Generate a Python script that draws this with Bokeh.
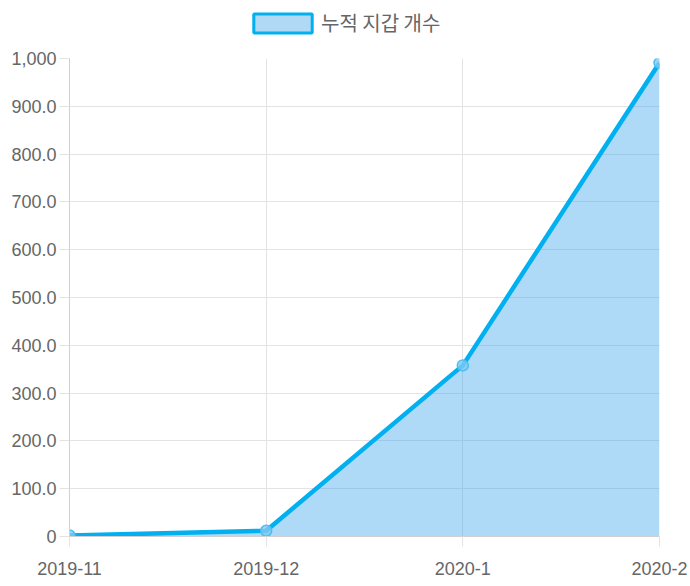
from bokeh.plotting import figure
from bokeh.layouts import column
from bokeh.models import Range1d, FixedTicker, Legend, LegendItem
from bokeh.embed import file_html
from bokeh.resources import INLINE

categories = ["2019-11", "2019-12", "2020-1", "2020-2"]
wallets = [2, 12, 358, 991]
series_name = "누적 지갑 개수"
y_ticks = [0, 100, 200, 300, 400, 500, 600, 700, 800, 900, 1000]
y_tick_labels = ["0", "100.0", "200.0", "300.0", "400.0", "500.0",
                 "600.0", "700.0", "800.0", "900.0", "1,000"]

xs = list(range(len(categories)))

# legend strip on top
lf = figure(width=690, height=48, output_backend="svg", toolbar_location=None,
            x_range=Range1d(0, 1), y_range=Range1d(0, 1),
            x_axis_location=None, y_axis_location=None,
            min_border=0, min_border_left=0, min_border_right=0,
            min_border_top=0, min_border_bottom=0)
lf.grid.visible = False
lf.outline_line_color = None
lf.background_fill_color = "white"
lf.border_fill_color = "white"
# swatch renderer lies outside the visible range; only its legend key shows
key = lf.quad(left=[5], right=[6], top=[6], bottom=[5], fill_color="#b0d9f5",
              line_color="#00b0f0", line_width=3)
legend = Legend(items=[LegendItem(label=series_name, renderers=[key])],
                location=(177, 11), orientation="horizontal",
                glyph_width=73, glyph_height=24, label_standoff=2,
                padding=0, margin=0, border_line_color=None,
                background_fill_alpha=0,
                label_text_font="Noto Sans CJK KR", label_text_font_size="20px",
                label_text_color="#666666", label_height=20)
lf.add_layout(legend, "center")

p = figure(frame_width=590, frame_height=478, output_backend="svg",
           toolbar_location=None, x_range=Range1d(0, len(categories) - 1),
           y_range=Range1d(0, 1000), min_border_left=69, min_border_right=31,
           min_border_top=10, min_border_bottom=50)
p.outline_line_color = None
p.background_fill_color = "white"
p.border_fill_color = "white"

grid_color = "#e3e3e3"
label_font = "Liberation Sans"

p.xaxis.ticker = FixedTicker(ticks=xs)
p.xaxis.major_label_overrides = {i: c for i, c in zip(xs, categories)}
p.yaxis.ticker = FixedTicker(ticks=y_ticks)
p.yaxis.major_label_overrides = {t: l for t, l in zip(y_ticks, y_tick_labels)}
p.xgrid.ticker = FixedTicker(ticks=xs)
p.ygrid.ticker = FixedTicker(ticks=y_ticks)
p.grid.grid_line_color = grid_color
p.grid.grid_line_width = 1

for ax in (p.xaxis, p.yaxis):
    ax.axis_line_color = "#d0d0d0"
    ax.major_tick_line_color = grid_color
    ax.major_tick_out = 10
    ax.major_tick_in = 0
    ax.minor_tick_line_color = None
    ax.major_label_text_font = label_font
    ax.major_label_text_font_size = "18px"
    ax.major_label_text_color = "#666666"
p.xaxis.major_label_standoff = 15
p.yaxis.major_label_standoff = 3

p.varea(x=xs, y1=[0] * len(xs), y2=wallets, fill_color="#36a2eb", fill_alpha=0.4)
p.line(x=xs, y=wallets, line_color="#00b0f0", line_width=4.5)
p.scatter(x=xs, y=wallets, size=11, fill_color="#7fcaf3", fill_alpha=0.8,
          line_color="#4dbdf2", line_width=1.5)

layout = column(lf, p, spacing=0)
open("out.html", "w").write(file_html(layout, INLINE))
